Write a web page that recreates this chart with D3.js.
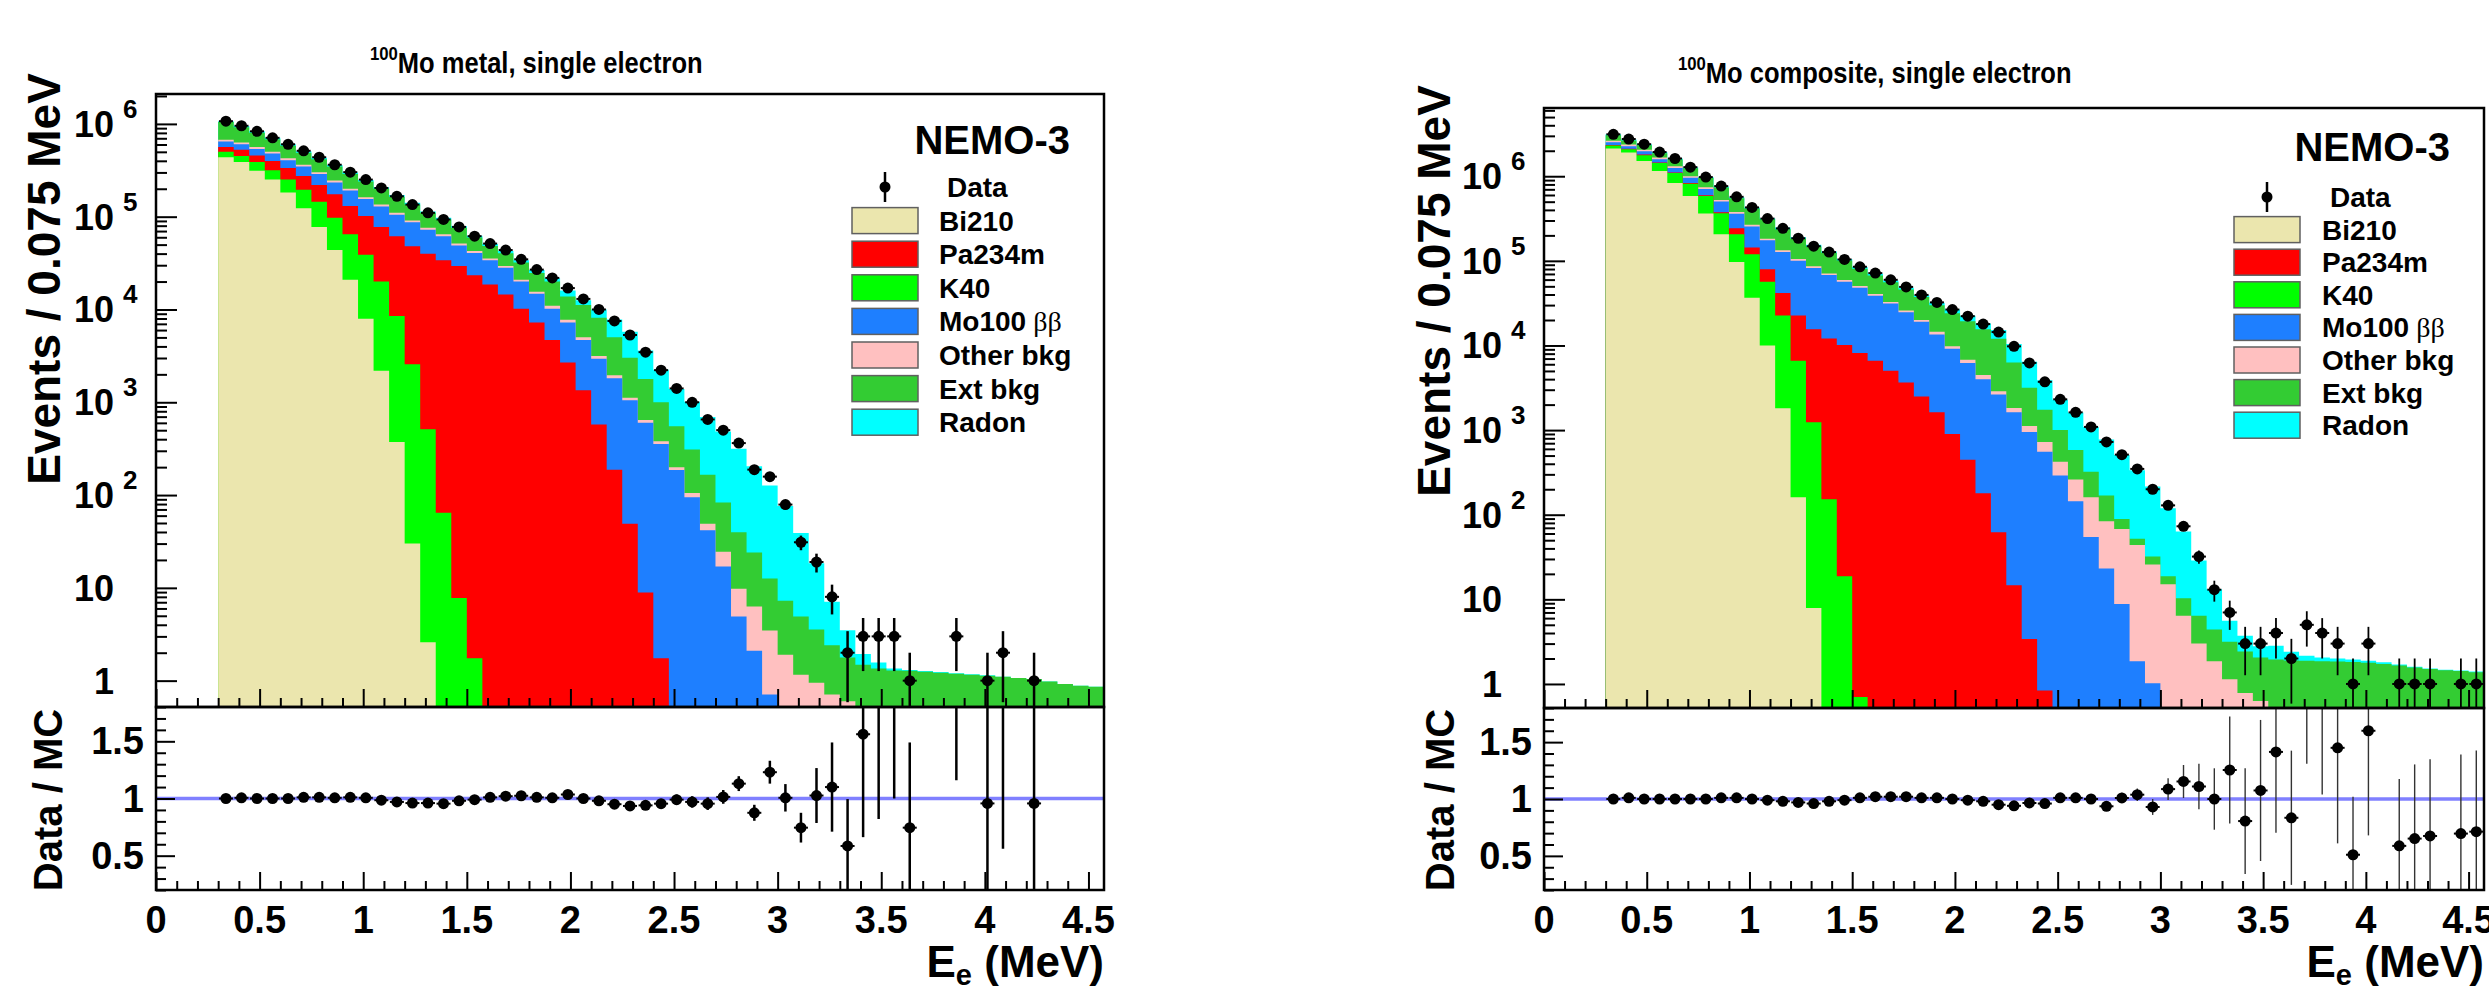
<!DOCTYPE html>
<html>
<head>
<meta charset="utf-8">
<script src="https://cdnjs.cloudflare.com/ajax/libs/d3/7.8.5/d3.min.js"></script>
<style>
  body { margin: 0; background: #fff; }
  svg { display: block; font-family: "Liberation Sans", Arial, Helvetica, sans-serif; font-weight: bold; }
</style>
</head>
<body>
<svg id="chart" width="2489" height="994"></svg>
<script>
// energy bins: low edge of each 0.075 MeV bin (MeV)
var binWidth = 0.075;
var binLow = [0.3, 0.375, 0.45, 0.525, 0.6, 0.675, 0.75, 0.825, 0.9, 0.975,
  1.05, 1.125, 1.2, 1.275, 1.35, 1.425, 1.5, 1.575, 1.65, 1.725,
  1.8, 1.875, 1.95, 2.025, 2.1, 2.175, 2.25, 2.325, 2.4, 2.475,
  2.55, 2.625, 2.7, 2.775, 2.85, 2.925, 3.0, 3.075, 3.15, 3.225,
  3.3, 3.375, 3.45, 3.525, 3.6, 3.675, 3.75, 3.825, 3.9, 3.975,
  4.05, 4.125, 4.2, 4.275, 4.35, 4.425, 4.5];

var xTickValues = [0, 0.5, 1, 1.5, 2, 2.5, 3, 3.5, 4, 4.5];
var xTickLabels = ["0", "0.5", "1", "1.5", "2", "2.5", "3", "3.5", "4", "4.5"];
var logTickExponents = [0, 1, 2, 3, 4, 5, 6];
var ratioTickValues = [0.5, 1, 1.5];
var ratioTickLabels = ["0.5", "1", "1.5"];

var legendLabels = ["Bi210", "Pa234m", "K40", "Mo100", "Other bkg", "Ext bkg", "Radon"];
var legendColors = ["#ebe6ae", "#ff0000", "#00ff00", "#1e7fff", "#ffc0c0", "#33cc33", "#00ffff"];

// ---- 100Mo metal ----
// events per bin
var metalData = [1.07e6, 9.55e5, 8.32e5, 7.08e5, 6.03e5, 5.13e5, 4.37e5, 3.63e5, 3.02e5, 2.51e5,
  2.04e5, 1.66e5, 1.35e5, 1.10e5, 9.33e4, 7.76e4, 6.17e4, 5.13e4, 4.37e4, 3.47e4,
  2.69e4, 2.19e4, 1.70e4, 1.30e4, 1.0e4, 7520, 5310, 3470, 2220, 1410,
  1000, 653, 501, 363, 188, 158, 79, 31, 19, 8,
  2, 3, 3, 3, 1, 0, 0, 3, 0, 1,
  2, 0, 1, 0, 0, 0, 0];
// upper edge of each layer of the MC stack (events), later bins are empty
var metalBi210 = [4.37e5, 3.89e5, 3.13e5, 2.51e5, 1.82e5, 1.23e5, 7.76e4, 4.37e4, 2.09e4, 7940,
  2190, 372, 30, 2.6];
var metalK40 = [5.01e5, 4.52e5, 3.89e5, 3.16e5, 2.51e5, 1.95e5, 1.45e5, 9.77e4, 6.46e4, 3.89e4,
  2.0e4, 8510, 2570, 513, 64.6, 7.76, 1.74];
var metalPa234m = [5.62e5, 5.25e5, 4.57e5, 3.98e5, 3.35e5, 2.75e5, 2.19e5, 1.74e5, 1.30e5, 1.02e5,
  7.76e4, 6.17e4, 4.79e4, 3.98e4, 3.39e4, 2.95e4, 2.34e4, 1.86e4, 1.45e4, 1.02e4,
  7240, 4680, 2690, 1350, 575, 188, 49, 8.9, 1.74];
var metalMo100 = [6.46e5, 6.03e5, 5.37e5, 4.79e5, 4.07e5, 3.47e5, 2.88e5, 2.34e5, 1.91e5, 1.55e5,
  1.29e5, 1.05e5, 8.71e4, 7.24e4, 6.17e4, 4.90e4, 4.07e4, 3.39e4, 2.82e4, 2.0e4,
  1.48e4, 1.02e4, 7240, 4680, 2950, 1820, 1050, 603, 355, 186,
  95, 41.7, 17, 4.9, 2.1, 0.71];
var metalOther = [6.76e5, 6.31e5, 5.62e5, 5.01e5, 4.27e5, 3.63e5, 3.02e5, 2.45e5, 2.0e5, 1.62e5,
  1.35e5, 1.10e5, 9.12e4, 7.59e4, 6.46e4, 5.13e4, 4.27e4, 3.55e4, 2.95e4, 2.09e4,
  1.55e4, 1.10e4, 7760, 5010, 3160, 1950, 1120, 646, 380, 200,
  105, 49, 24.5, 9.8, 6.3, 3.47, 1.9, 1.16, 0.95, 0.71,
  0.60];
var metalExt = [1.05e6, 9.23e5, 8.04e5, 6.84e5, 5.82e5, 4.90e5, 4.17e5, 3.47e5, 2.88e5, 2.40e5,
  2.0e5, 1.64e5, 1.35e5, 1.10e5, 9.33e4, 7.59e4, 5.96e4, 4.84e4, 4.03e4, 3.20e4,
  2.48e4, 2.0e4, 1.38e4, 1.12e4, 8130, 5010, 3020, 1780, 1000, 550,
  309, 166, 83, 39.8, 24, 12.6, 7.24, 4.9, 3.55, 2.4,
  1.78, 1.48, 1.35, 1.29, 1.28, 1.25, 1.22, 1.19, 1.16, 1.13,
  1.1, 1.07, 1.04, 0.98, 0.92, 0.88, 0.86];
var metalRadon = [1.07e6, 9.48e5, 8.32e5, 7.08e5, 6.03e5, 5.08e5, 4.32e5, 3.61e5, 2.99e5, 2.49e5,
  2.07e5, 1.71e5, 1.41e5, 1.14e5, 9.77e4, 7.92e4, 6.22e4, 5.08e4, 4.27e4, 3.39e4,
  2.67e4, 2.17e4, 1.60e4, 1.26e4, 9980, 7800, 5740, 3610, 2240, 1390,
  1010, 695, 483, 315, 204, 127, 76, 38.9, 18.4, 7.1,
  3.5, 1.94, 1.57, 1.35, 1.3, 1.27, 1.24, 1.2, 1.17, 1.14,
  1.1, 1.07, 1.04, 0.98, 0.92, 0.88, 0.86];
var metalRatio = [1.0, 1.006, 1.0, 1.0, 1.0, 1.01, 1.01, 1.006, 1.01, 1.006,
  0.985, 0.97, 0.96, 0.96, 0.955, 0.98, 0.99, 1.01, 1.02, 1.024,
  1.01, 1.006, 1.035, 1.0, 0.98, 0.95, 0.935, 0.94, 0.955, 0.99,
  0.97, 0.955, 1.014, 1.13, 0.875, 1.23, 1.006, 0.745, 1.026, 1.10,
  0.585, 1.562, 1.95, 2.36, 0.745, null, null, 2.74, null, 0.957,
  1.90, null, 0.957, null, null, null, null];
var metalRatioErr = [0.003, 0.003, 0.003, 0.003, 0.003, 0.003, 0.004, 0.004, 0.004, 0.004,
  0.005, 0.005, 0.005, 0.006, 0.006, 0.006, 0.007, 0.008, 0.009, 0.01,
  0.011, 0.012, 0.014, 0.016, 0.018, 0.02, 0.024, 0.03, 0.037, 0.045,
  0.05, 0.055, 0.06, 0.065, 0.07, 0.1, 0.12, 0.13, 0.24, 0.39,
  0.41, 0.9, 1.13, 1.36, 0.745, null, null, 1.58, null, 0.957,
  1.34, null, 0.957, null, null, null, null];

// ---- 100Mo composite ----
var compData = [3.13e6, 2.75e6, 2.39e6, 1.93e6, 1.62e6, 1.28e6, 9.77e5, 7.64e5, 5.71e5, 4.28e5,
  3.16e5, 2.42e5, 1.85e5, 1.49e5, 1.27e5, 1.04e5, 8.51e4, 7.16e4, 5.97e4, 4.92e4,
  3.96e4, 3.23e4, 2.66e4, 2.22e4, 1.79e4, 1.44e4, 9770, 6220, 3720, 2310,
  1620, 1090, 724, 513, 348, 200, 129, 73, 32, 13,
  7, 3, 3, 4, 2, 5, 4, 3, 1, 3,
  0, 1, 1, 1, 0, 1, 1];
var compBi210 = [2.12e6, 1.91e6, 1.51e6, 1.15e6, 8.32e5, 5.83e5, 3.63e5, 2.06e5, 9.68e4, 3.67e4,
  1.0e4, 1810, 161, 7.9];
var compK40 = [2.31e6, 2.08e6, 1.77e6, 1.43e6, 1.09e6, 8.15e5, 5.83e5, 3.64e5, 2.06e5, 1.20e5,
  5.65e4, 2.26e4, 6580, 1240, 152, 18.7, 0.70];
var compPa234m = [2.34e6, 2.11e6, 1.80e6, 1.45e6, 1.11e6, 8.32e5, 5.96e5, 3.76e5, 2.42e5, 1.44e5,
  7.98e4, 4.18e4, 2.26e4, 1.56e4, 1.21e4, 1.01e4, 8150, 6580, 5020, 3640,
  2490, 1620, 897, 447, 179, 62, 14.7, 3.4, 0.84];
var compMo100 = [2.52e6, 2.26e6, 1.97e6, 1.59e6, 1.25e6, 9.57e5, 7.08e5, 5.02e5, 3.60e5, 2.55e5,
  1.75e5, 1.27e5, 1.0e5, 8.24e4, 6.79e4, 5.65e4, 4.81e4, 3.88e4, 3.13e4, 2.47e4,
  1.91e4, 1.35e4, 9120, 6220, 3980, 2630, 1620, 948, 553, 290,
  144, 54.7, 23.1, 8.8, 1.85, 1.02];
var compOther = [2.63e6, 2.37e6, 2.06e6, 1.66e6, 1.31e6, 1.0e6, 7.41e5, 5.25e5, 3.77e5, 2.67e5,
  1.83e5, 1.33e5, 1.05e5, 8.63e4, 7.11e4, 5.92e4, 5.04e4, 4.06e4, 3.27e4, 2.59e4,
  2.0e4, 1.45e4, 9770, 6760, 4470, 2880, 1820, 1120, 724, 423,
  261, 161, 84, 68, 44, 25.8, 15.1, 6.4, 3.0, 1.85,
  1.14, 0.78, 0.63];
var compExt = [3.04e6, 2.65e6, 2.32e6, 1.87e6, 1.58e6, 1.24e6, 9.51e5, 7.36e5, 5.51e5, 4.16e5,
  3.10e5, 2.36e5, 1.82e5, 1.48e5, 1.24e5, 1.01e5, 8.05e4, 6.70e4, 5.58e4, 4.60e4,
  3.75e4, 2.99e4, 2.40e4, 1.93e4, 1.55e4, 1.20e4, 6310, 3160, 1740, 1000,
  583, 323, 169, 89, 51.9, 32, 18.7, 10.3, 6.4, 4.4,
  3.16, 2.42, 2.06, 1.95, 1.9, 1.88, 1.86, 1.84, 1.82, 1.78,
  1.72, 1.65, 1.57, 1.5, 1.45, 1.42, 1.38];
var compRadon = [3.13e6, 2.72e6, 2.39e6, 1.93e6, 1.62e6, 1.28e6, 9.77e5, 7.57e5, 5.66e5, 4.28e5,
  3.19e5, 2.47e5, 1.90e5, 1.55e5, 1.29e5, 1.05e5, 8.43e4, 7.02e4, 5.85e4, 4.82e4,
  3.93e4, 3.20e4, 2.66e4, 2.24e4, 1.82e4, 1.52e4, 1.04e4, 6440, 3870, 2290,
  1610, 1090, 774, 508, 336, 215, 119, 63.4, 28.8, 13.2,
  5.6, 3.72, 2.79, 2.83, 2.4, 2.15, 2.05, 2.0, 1.95, 1.88,
  1.8, 1.7, 1.6, 1.52, 1.47, 1.44, 1.4];
var compRatio = [1.0, 1.01, 1.0, 1.0, 1.0, 1.0, 1.0, 1.01, 1.01, 1.0,
  0.99, 0.98, 0.97, 0.96, 0.98, 0.99, 1.01, 1.02, 1.02, 1.02,
  1.01, 1.01, 1.0, 0.99, 0.98, 0.95, 0.94, 0.965, 0.96, 1.01,
  1.01, 1.0, 0.936, 1.009, 1.038, 0.93, 1.087, 1.154, 1.11, 1.0,
  1.255, 0.806, 1.075, 1.414, 0.835, 2.37, 2.08, 1.45, 0.51, 1.60,
  null, 0.588, 0.652, 0.675, null, 0.696, 0.713];
var compRatioErr = [0.002, 0.002, 0.002, 0.002, 0.002, 0.002, 0.002, 0.002, 0.003, 0.003,
  0.003, 0.003, 0.003, 0.004, 0.004, 0.004, 0.005, 0.005, 0.005, 0.006,
  0.006, 0.007, 0.008, 0.008, 0.009, 0.01, 0.01, 0.013, 0.016, 0.02,
  0.025, 0.03, 0.035, 0.045, 0.055, 0.07, 0.095, 0.145, 0.2, 0.27,
  0.47, 0.465, 0.62, 0.71, 0.59, 1.06, 1.04, 0.84, 0.51, 0.92,
  null, 0.588, 0.652, 0.675, null, 0.696, 0.713];

var svg = d3.select("#chart");

var panels = [
  { id: "metal", title: "Mo metal, single electron", titleX: 370, titleY: 73,
    left: 156, right: 1104, top: 94, split: 707, bottom: 890, yMax: 2.1e6,
    data: metalData, ratio: metalRatio, ratioErr: metalRatioErr,
    layers: [metalRadon, metalExt, metalOther, metalMo100, metalPa234m, metalK40, metalBi210],
    errW: 2.5, ratioErrW: 2.5, ratioErrColor: "#000",
    yTitleX: 60, yTitleY: 279, ratioTitleX: 62, nemoX: 1070, nemoY: 154,
    legBoxX: 852, legTextX: 939, legDataY: 187, legStep: 33.6 },
  { id: "comp", title: "Mo composite, single electron", titleX: 1678, titleY: 83,
    left: 1544, right: 2484, top: 108, split: 708, bottom: 890, yMax: 6.4e6,
    data: compData, ratio: compRatio, ratioErr: compRatioErr,
    layers: [compRadon, compExt, compOther, compMo100, compPa234m, compK40, compBi210],
    errW: 1.8, ratioErrW: 1.4, ratioErrColor: "#333",
    yTitleX: 1450, yTitleY: 291, ratioTitleX: 1454, nemoX: 2450, nemoY: 161,
    legBoxX: 2234, legTextX: 2322, legDataY: 197, legStep: 32.6 }
];

var yMin = 0.52;
var layerFill = ["#00ffff", "#33cc33", "#ffc0c0", "#1e7fff", "#ff0000", "#00ff00", "#ebe6ae"];

function marker(sel, cxf, cyf) {
  sel.append("line").attr("x1", function(d) { return cxf(d) - 7; }).attr("x2", function(d) { return cxf(d) + 7; })
    .attr("y1", cyf).attr("y2", cyf).attr("stroke", "#000").attr("stroke-width", 2);
  sel.append("circle").attr("cx", cxf).attr("cy", cyf).attr("r", 5.5).attr("fill", "#000");
}

panels.forEach(function(p) {
  var g = svg.append("g");
  var x = d3.scaleLinear().domain([0, 4.575]).range([p.left, p.right]);
  var y = d3.scaleLog().domain([yMin, p.yMax]).range([p.split, p.top]);
  var yr = d3.scaleLinear().domain([0.2, 1.8]).range([p.bottom, p.split]);

  g.append("clipPath").attr("id", "clipTop" + p.id)
    .append("rect").attr("x", p.left).attr("y", p.top)
    .attr("width", p.right - p.left).attr("height", p.split - p.top);
  g.append("clipPath").attr("id", "clipRatio" + p.id)
    .append("rect").attr("x", p.left).attr("y", p.split)
    .attr("width", p.right - p.left).attr("height", p.bottom - p.split);

  var top = g.append("g").attr("clip-path", "url(#clipTop" + p.id + ")");

  // stacked histogram, drawn from the outer layer inwards
  var area = d3.area()
    .x(function(d) { return x(d.x); })
    .y0(p.split)
    .y1(function(d) { return y(Math.max(d.v, yMin)); })
    .curve(d3.curveStepAfter);

  p.layers.forEach(function(edge, li) {
    var pts = binLow.map(function(b, k) { return { x: b, v: edge[k] || 0 }; });
    pts.push({ x: binLow[binLow.length - 1] + binWidth, v: edge[binLow.length - 1] || 0 });
    top.append("path").attr("d", area(pts)).attr("fill", layerFill[li]);
  });

  // data points with Poisson error bars
  var dpts = [];
  p.data.forEach(function(n, k) { if (n > 0) dpts.push({ k: k, n: n }); });
  var cx = function(d) { return x(binLow[d.k] + binWidth / 2); };
  top.selectAll("line.err").data(dpts).join("line")
    .attr("x1", cx).attr("x2", cx)
    .attr("y1", function(d) { return y(Math.max(d.n - Math.sqrt(d.n), yMin * 0.5)); })
    .attr("y2", function(d) { return y(d.n + Math.sqrt(d.n)); })
    .attr("stroke", "#000").attr("stroke-width", p.errW);
  var dm = top.selectAll("g.pt").data(dpts).join("g");
  marker(dm, cx, function(d) { return y(d.n); });

  // ratio pad
  var rg = g.append("g").attr("clip-path", "url(#clipRatio" + p.id + ")");
  rg.append("line").attr("x1", p.left).attr("x2", p.right)
    .attr("y1", yr(1)).attr("y2", yr(1))
    .attr("stroke", "#8080ff").attr("stroke-width", 3.5);
  var rpts = [];
  p.ratio.forEach(function(r, k) { if (r !== null) rpts.push({ k: k, r: r, e: p.ratioErr[k] }); });
  rg.selectAll("line.rerr").data(rpts).join("line")
    .attr("x1", cx).attr("x2", cx)
    .attr("y1", function(d) { return yr(d.r - d.e); })
    .attr("y2", function(d) { return yr(d.r + d.e); })
    .attr("stroke", p.ratioErrColor).attr("stroke-width", p.ratioErrW);
  var rm = rg.selectAll("g.pt").data(rpts).join("g");
  marker(rm, cx, function(d) { return yr(d.r); });

  // ticks
  var minorX = d3.range(0, 4.575, 0.1).filter(function(v) { return Math.abs(v * 2 - Math.round(v * 2)) > 1e-6; });
  function ticks(gen, vals, size, tx, ty) {
    g.append("g").attr("transform", "translate(" + tx + "," + ty + ")")
      .call(gen.tickValues(vals).tickSize(size).tickFormat(function() { return ""; }))
      .call(function(s) { s.select(".domain").remove(); s.selectAll("line").attr("stroke", "#000").attr("stroke-width", 2); });
  }
  [p.split, p.bottom].forEach(function(yy) {
    ticks(d3.axisTop(x), xTickValues, 18, 0, yy);
    ticks(d3.axisTop(x), minorX, 9, 0, yy);
  });
  var majorY = logTickExponents.map(function(e) { return Math.pow(10, e); });
  var minorY = [];
  logTickExponents.forEach(function(e) {
    for (var m = 2; m <= 9; m++) { var v = m * Math.pow(10, e); if (v <= p.yMax) minorY.push(v); }
  });
  ticks(d3.axisRight(y), majorY, 21, p.left, 0);
  ticks(d3.axisRight(y), minorY, 11, p.left, 0);
  var minorR = d3.range(0.2, 1.8001, 0.1).filter(function(v) { return Math.abs(v * 2 - Math.round(v * 2)) > 1e-6; });
  ticks(d3.axisRight(yr), ratioTickValues, 19, p.left, 0);
  ticks(d3.axisRight(yr), minorR, 10, p.left, 0);

  // frames
  g.append("rect").attr("x", p.left).attr("y", p.top)
    .attr("width", p.right - p.left).attr("height", p.split - p.top)
    .attr("fill", "none").attr("stroke", "#000").attr("stroke-width", 2.5);
  g.append("rect").attr("x", p.left).attr("y", p.split)
    .attr("width", p.right - p.left).attr("height", p.bottom - p.split)
    .attr("fill", "none").attr("stroke", "#000").attr("stroke-width", 2.5);

  // log axis labels
  logTickExponents.forEach(function(e) {
    var ty = y(Math.pow(10, e));
    g.append("text").attr("x", p.left - 42).attr("y", ty + 13)
      .attr("text-anchor", "end").attr("font-size", 36)
      .text(e === 0 ? "1" : "10");
    if (e >= 2) {
      g.append("text").attr("x", p.left - 33).attr("y", ty - 6)
        .attr("font-size", 26).text(String(e));
    }
  });
  ratioTickValues.forEach(function(v, i) {
    g.append("text").attr("x", p.left - 12).attr("y", yr(v) + 13)
      .attr("text-anchor", "end").attr("font-size", 38).text(ratioTickLabels[i]);
  });
  xTickValues.forEach(function(v, i) {
    g.append("text").attr("x", x(v)).attr("y", 933)
      .attr("text-anchor", "middle").attr("font-size", 38).text(xTickLabels[i]);
  });

  // axis titles
  var et = g.append("text").attr("x", p.right).attr("y", 977)
    .attr("text-anchor", "end").attr("font-size", 44);
  et.append("tspan").text("E");
  et.append("tspan").attr("font-size", 29).attr("dy", 8).text("e");
  et.append("tspan").attr("dy", -8).text(" (MeV)");

  g.append("text").attr("transform", "translate(" + p.yTitleX + "," + p.yTitleY + ") rotate(-90)")
    .attr("text-anchor", "middle").attr("font-size", 46).text("Events / 0.075 MeV");
  g.append("text").attr("transform", "translate(" + p.ratioTitleX + ",800) rotate(-90)")
    .attr("text-anchor", "middle").attr("font-size", 40).text("Data / MC");

  // title (ROOT renders it slightly condensed)
  var tt = g.append("text").attr("transform", "translate(" + p.titleX + "," + p.titleY + ") scale(0.88,1)")
    .attr("font-size", 29);
  tt.append("tspan").attr("font-size", 19).attr("dy", -13).text("100");
  tt.append("tspan").attr("dy", 13).text(p.title);

  // NEMO-3 label and legend
  g.append("text").attr("x", p.nemoX).attr("y", p.nemoY)
    .attr("text-anchor", "end").attr("font-size", 40).text("NEMO-3");

  var bx = p.legBoxX, bw = 66, bh = 26;
  var mx = bx + bw / 2;
  g.append("line").attr("x1", mx).attr("x2", mx)
    .attr("y1", p.legDataY - 15).attr("y2", p.legDataY + 15)
    .attr("stroke", "#000").attr("stroke-width", 2.5);
  g.append("circle").attr("cx", mx).attr("cy", p.legDataY).attr("r", 5.5).attr("fill", "#000");
  g.append("text").attr("x", p.legTextX + 8).attr("y", p.legDataY + 10)
    .attr("font-size", 28).text("Data");

  legendLabels.forEach(function(lab, i) {
    var cy = p.legDataY + p.legStep * (i + 1);
    g.append("rect").attr("x", bx).attr("y", cy - bh / 2).attr("width", bw).attr("height", bh)
      .attr("fill", legendColors[i]).attr("stroke", "#606060").attr("stroke-width", 1.5);
    var t = g.append("text").attr("x", p.legTextX).attr("y", cy + 10).attr("font-size", 28);
    t.append("tspan").text(lab);
    if (lab === "Mo100") {
      t.append("tspan").attr("font-family", "'Liberation Serif', 'DejaVu Serif', serif")
        .attr("font-weight", "normal").text(" \u03b2\u03b2");
    }
  });
});
</script>
</body>
</html>
